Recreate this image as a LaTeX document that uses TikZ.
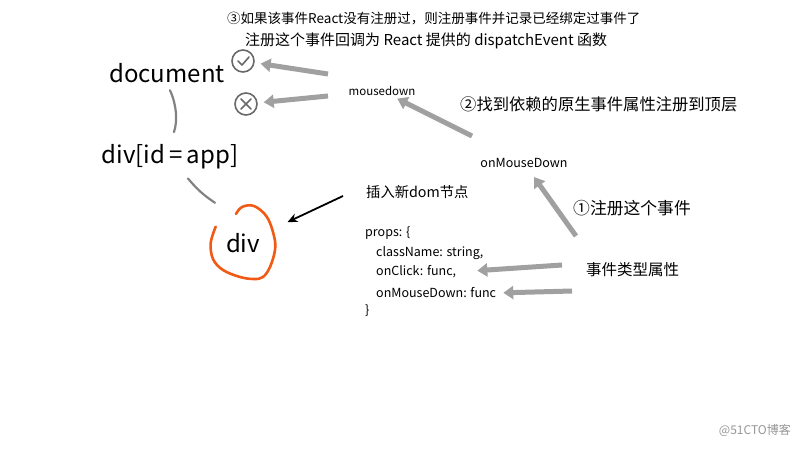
\documentclass[tikz,border=0pt]{standalone}
\usepackage{fontspec}
\newfontfamily\cjk{Noto Sans CJK SC}
\usetikzlibrary{arrows.meta}
\definecolor{garrowc}{RGB}{160,160,160}
\definecolor{tlinec}{RGB}{130,130,130}
\definecolor{iconc}{RGB}{105,105,105}
\definecolor{orangec}{RGB}{240,90,20}
\definecolor{wmc}{RGB}{150,150,150}
\tikzset{
  txt/.style={font=\cjk, inner sep=1pt, text=black},
  big/.style={txt, font=\cjk\fontsize{24}{28}\selectfont},
  note/.style={txt, anchor=west},
  code/.style={txt, anchor=west, font=\cjk\fontsize{12.5}{15}\selectfont},
  garrow/.style={draw=garrowc, line width=5pt, -{Triangle[length=10pt,width=13pt]}},
  barrow/.style={draw=black, line width=1.8pt, -{Stealth[length=10pt,width=9pt]}},
  tline/.style={draw=tlinec, line width=2.2pt, line cap=round},
  icon/.style={circle, draw=iconc, line width=1.6pt, minimum size=22pt, inner sep=0pt},
}
\begin{document}
\begin{tikzpicture}[x=1pt,y=-1pt]
\useasboundingbox (0,0) rectangle (800,449);

% tree
\node[big] (document) at (167,73) {document};
\node[big] (divapp) at (170,157) {div[id\,=\,app]};
\node[big, circle, minimum size=70pt] (div) at (243,243) {div};

\draw[tline] (document.south) to[bend left=22] (divapp.north)
  [shorten <=7pt, shorten >=12pt];
\draw[tline] ([xshift=18pt,yshift=-8pt]divapp.south) to[bend right=8] ([xshift=-28pt,yshift=5pt]div.north);

% orange hand-drawn loop
\draw[orangec, line width=2.6pt, line cap=round, line join=round]
  plot[smooth, tension=0.6] coordinates {(215.7,226.7) (210.7,243) (213,259) (223,270) (240,277) (254,279) (263,277) (270,267) (275,250) (274,236) (267,217) (254,206) (242,207) (236,214)};

% icons
\node[icon] (chk) at (243,61) {};
\draw[iconc, line width=1.6pt, line cap=round, line join=round]
  ([xshift=-5pt]chk.center) -- ([xshift=-1pt,yshift=-4pt]chk.center) -- ([xshift=6pt,yshift=4pt]chk.center);
\node[icon] (xx) at (246,104) {};
\draw[iconc, line width=1.6pt, line cap=round]
  ([xshift=-5pt,yshift=-5pt]xx.center) -- ([xshift=5pt,yshift=5pt]xx.center)
  ([xshift=-5pt,yshift=5pt]xx.center) -- ([xshift=5pt,yshift=-5pt]xx.center);

% texts
\node[note, font=\cjk\fontsize{13.5}{16}\selectfont] (t3a) at (226,19) {③如果该事件React没有注册过，则注册事件并记录已经绑定过事件了};
\node[note, font=\cjk\fontsize{15}{18}\selectfont] (t3b) at (244,41) {注册这个事件回调为 React 提供的 dispatchEvent 函数};
\node[txt, font=\cjk\fontsize{11.5}{14}\selectfont] (md) at (382,91) {mousedown};
\node[note, font=\cjk\fontsize{16.3}{19}\selectfont] (t2) at (459,104) {②找到依赖的原生事件属性注册到顶层};
\node[txt, font=\cjk\fontsize{12.5}{15}\selectfont] (omd) at (524,163) {onMouseDown};
\node[note, font=\cjk\fontsize{16.8}{19}\selectfont] (t1) at (572,208) {①注册这个事件};
\node[note, font=\cjk\fontsize{14.3}{17}\selectfont] (ins) at (365,192) {插入新dom节点};
\node[code] (p0) at (364,233) {props: \{};
\node[code] (p1) at (375,253) {className: string,};
\node[code] (p2) at (375,272) {onClick: func,};
\node[code] (p3) at (375,293) {onMouseDown: func};
\node[code] (p4) at (364,311) {\}};
\node[note, font=\cjk\fontsize{15.5}{18}\selectfont] (evt) at (585,270) {事件类型属性};
\node[txt, anchor=east, text=wmc, font=\cjk\fontsize{12}{14}\selectfont] (wm) at (792,430) {@51CTO博客};

% arrows
\coordinate (s1) at (328,74);
\coordinate (s2) at (328,96);
\coordinate (s3) at (472,136);
\coordinate (s4) at (576,236);
\coordinate (s5) at (562,265);
\coordinate (s6) at (572,291);
\coordinate (s7) at (343,196);
\draw[garrow, shorten >=6pt] (s1) -- (chk);
\draw[garrow, shorten >=6pt] (s2) -- (xx);
\draw[garrow, shorten >=4pt] (s3) -- (md);
\draw[garrow, shorten >=10pt] (s4) -- (omd);
\draw[garrow, shorten >=20pt] (s5) -- (p2.east);
\draw[garrow, shorten >=6pt] (s6) -- (p3.east);
\draw[barrow, shorten >=14pt] (s7) -- (div);
\end{tikzpicture}
\end{document}
